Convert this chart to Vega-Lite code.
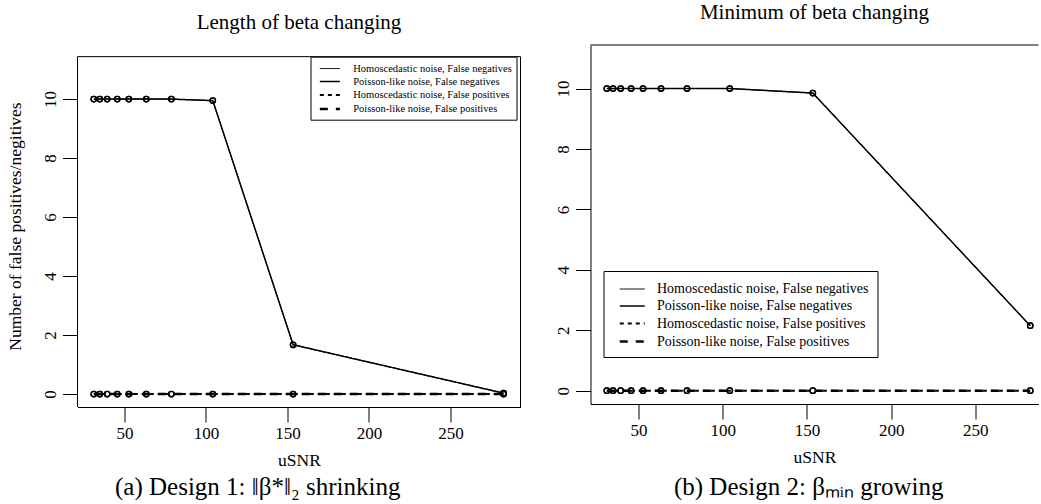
{
  "$schema": "https://vega.github.io/schema/vega-lite/v6.json",
  "padding": {"left": 6.5, "top": 1, "right": 0, "bottom": 0},
  "background": "white",
  "spacing": 33,
  "resolve": {
    "scale": {"x": "independent", "y": "independent", "strokeDash": "independent", "strokeWidth": "independent"},
    "legend": {"strokeDash": "independent", "strokeWidth": "independent"}
  },
  "config": {
    "font": "Liberation Serif",
    "view": {"stroke": null},
    "axis": {"grid": false, "domain": false, "domainColor": "black", "domainWidth": 1, "tickColor": "black", "tickSize": 15, "tickWidth": 1, "labelColor": "black", "labelFontSize": 17, "titleFontSize": 17.5, "titleFontWeight": "normal", "titleColor": "black", "labelFont": "Liberation Serif", "titleFont": "Liberation Serif", "labelFlush": false, "labelOverlap": false},
    "title": {"fontWeight": "normal", "color": "black", "font": "Liberation Serif"},
    "legend": {"labelFont": "Liberation Serif", "labelColor": "black", "labelLimit": 500}
  },
  "datasets": {
    "left": [
      {"series": "Homoscedastic noise, False negatives", "x": 31.2, "y": 10},
      {"series": "Homoscedastic noise, False negatives", "x": 34.9, "y": 10},
      {"series": "Homoscedastic noise, False negatives", "x": 39.4, "y": 10},
      {"series": "Homoscedastic noise, False negatives", "x": 45.6, "y": 10},
      {"series": "Homoscedastic noise, False negatives", "x": 52.7, "y": 10},
      {"series": "Homoscedastic noise, False negatives", "x": 63.4, "y": 10},
      {"series": "Homoscedastic noise, False negatives", "x": 78.8, "y": 10},
      {"series": "Homoscedastic noise, False negatives", "x": 104.2, "y": 9.95},
      {"series": "Homoscedastic noise, False negatives", "x": 153.5, "y": 1.67},
      {"series": "Homoscedastic noise, False negatives", "x": 282.6, "y": 0.03},
      {"series": "Poisson-like noise, False negatives", "x": 31.2, "y": 10},
      {"series": "Poisson-like noise, False negatives", "x": 34.9, "y": 10},
      {"series": "Poisson-like noise, False negatives", "x": 39.4, "y": 10},
      {"series": "Poisson-like noise, False negatives", "x": 45.6, "y": 10},
      {"series": "Poisson-like noise, False negatives", "x": 52.7, "y": 10},
      {"series": "Poisson-like noise, False negatives", "x": 63.4, "y": 10},
      {"series": "Poisson-like noise, False negatives", "x": 78.8, "y": 10},
      {"series": "Poisson-like noise, False negatives", "x": 104.2, "y": 9.95},
      {"series": "Poisson-like noise, False negatives", "x": 153.5, "y": 1.67},
      {"series": "Poisson-like noise, False negatives", "x": 282.6, "y": 0.03},
      {"series": "Homoscedastic noise, False positives", "x": 31.2, "y": 0},
      {"series": "Homoscedastic noise, False positives", "x": 34.9, "y": 0},
      {"series": "Homoscedastic noise, False positives", "x": 39.4, "y": 0},
      {"series": "Homoscedastic noise, False positives", "x": 45.6, "y": 0},
      {"series": "Homoscedastic noise, False positives", "x": 52.7, "y": 0},
      {"series": "Homoscedastic noise, False positives", "x": 63.4, "y": 0},
      {"series": "Homoscedastic noise, False positives", "x": 78.8, "y": 0},
      {"series": "Homoscedastic noise, False positives", "x": 104.2, "y": 0},
      {"series": "Homoscedastic noise, False positives", "x": 153.5, "y": 0},
      {"series": "Homoscedastic noise, False positives", "x": 282.6, "y": 0},
      {"series": "Poisson-like noise, False positives", "x": 31.2, "y": 0},
      {"series": "Poisson-like noise, False positives", "x": 34.9, "y": 0},
      {"series": "Poisson-like noise, False positives", "x": 39.4, "y": 0},
      {"series": "Poisson-like noise, False positives", "x": 45.6, "y": 0},
      {"series": "Poisson-like noise, False positives", "x": 52.7, "y": 0},
      {"series": "Poisson-like noise, False positives", "x": 63.4, "y": 0},
      {"series": "Poisson-like noise, False positives", "x": 78.8, "y": 0},
      {"series": "Poisson-like noise, False positives", "x": 104.2, "y": 0},
      {"series": "Poisson-like noise, False positives", "x": 153.5, "y": 0},
      {"series": "Poisson-like noise, False positives", "x": 282.6, "y": 0}
    ],
    "right": [
      {"series": "Homoscedastic noise, False negatives", "x": 31.2, "y": 10},
      {"series": "Homoscedastic noise, False negatives", "x": 34.9, "y": 10},
      {"series": "Homoscedastic noise, False negatives", "x": 39.4, "y": 10},
      {"series": "Homoscedastic noise, False negatives", "x": 45.6, "y": 10},
      {"series": "Homoscedastic noise, False negatives", "x": 52.7, "y": 10},
      {"series": "Homoscedastic noise, False negatives", "x": 63.4, "y": 10},
      {"series": "Homoscedastic noise, False negatives", "x": 78.8, "y": 10},
      {"series": "Homoscedastic noise, False negatives", "x": 104.2, "y": 10},
      {"series": "Homoscedastic noise, False negatives", "x": 153.5, "y": 9.85},
      {"series": "Homoscedastic noise, False negatives", "x": 282.6, "y": 2.15},
      {"series": "Poisson-like noise, False negatives", "x": 31.2, "y": 10},
      {"series": "Poisson-like noise, False negatives", "x": 34.9, "y": 10},
      {"series": "Poisson-like noise, False negatives", "x": 39.4, "y": 10},
      {"series": "Poisson-like noise, False negatives", "x": 45.6, "y": 10},
      {"series": "Poisson-like noise, False negatives", "x": 52.7, "y": 10},
      {"series": "Poisson-like noise, False negatives", "x": 63.4, "y": 10},
      {"series": "Poisson-like noise, False negatives", "x": 78.8, "y": 10},
      {"series": "Poisson-like noise, False negatives", "x": 104.2, "y": 10},
      {"series": "Poisson-like noise, False negatives", "x": 153.5, "y": 9.85},
      {"series": "Poisson-like noise, False negatives", "x": 282.6, "y": 2.15},
      {"series": "Homoscedastic noise, False positives", "x": 31.2, "y": 0},
      {"series": "Homoscedastic noise, False positives", "x": 34.9, "y": 0},
      {"series": "Homoscedastic noise, False positives", "x": 39.4, "y": 0},
      {"series": "Homoscedastic noise, False positives", "x": 45.6, "y": 0},
      {"series": "Homoscedastic noise, False positives", "x": 52.7, "y": 0},
      {"series": "Homoscedastic noise, False positives", "x": 63.4, "y": 0},
      {"series": "Homoscedastic noise, False positives", "x": 78.8, "y": 0},
      {"series": "Homoscedastic noise, False positives", "x": 104.2, "y": 0},
      {"series": "Homoscedastic noise, False positives", "x": 153.5, "y": 0},
      {"series": "Homoscedastic noise, False positives", "x": 282.6, "y": 0},
      {"series": "Poisson-like noise, False positives", "x": 31.2, "y": 0},
      {"series": "Poisson-like noise, False positives", "x": 34.9, "y": 0},
      {"series": "Poisson-like noise, False positives", "x": 39.4, "y": 0},
      {"series": "Poisson-like noise, False positives", "x": 45.6, "y": 0},
      {"series": "Poisson-like noise, False positives", "x": 52.7, "y": 0},
      {"series": "Poisson-like noise, False positives", "x": 63.4, "y": 0},
      {"series": "Poisson-like noise, False positives", "x": 78.8, "y": 0},
      {"series": "Poisson-like noise, False positives", "x": 104.2, "y": 0},
      {"series": "Poisson-like noise, False positives", "x": 153.5, "y": 0},
      {"series": "Poisson-like noise, False positives", "x": 282.6, "y": 0}
    ]
  },
  "hconcat": [
    {
      "title": {"text": "(a) Design 1: ‖β*‖₂ shrinking", "orient": "bottom", "fontSize": 25, "offset": 6, "anchor": "middle", "dx": -6},
      "vconcat": [
        {
          "width": 443,
          "height": 362,
          "title": {"text": "Length of beta changing", "fontSize": 21, "offset": 12},
          "data": {"name": "left"},
          "layer": [
            {
              "mark": {"type": "line", "color": "black"},
              "encoding": {
                "x": {"field": "x", "type": "quantitative", "scale": {"domain": [21.2, 293], "nice": false, "zero": false}, "axis": {"values": [50, 100, 150, 200, 250], "title": "uSNR", "format": "d", "labelPadding": 3, "titlePadding": 10, "domain": true}},
                "y": {"field": "y", "type": "quantitative", "scale": {"domain": [-0.44, 11.835], "nice": false, "zero": false}, "axis": {"values": [0, 2, 4, 6, 8, 10], "title": "Number of false positives/negitives", "format": "d", "labelAngle": -90, "labelAlign": "center", "labelBaseline": "alphabetic", "labelPadding": 7, "minExtent": 40, "maxExtent": 40, "titlePadding": 13}},
                "strokeDash": {"field": "series", "type": "nominal", "scale": {"domain": ["Homoscedastic noise, False negatives", "Poisson-like noise, False negatives", "Homoscedastic noise, False positives", "Poisson-like noise, False positives"], "range": [[1, 0], [1, 0], [4, 4], [8, 8]]}, "legend": {"orient": "none", "legendX": 233, "legendY": 11.7, "title": null, "strokeColor": "black", "fillColor": "white", "padding": 4.35, "symbolOffset": 7, "labelFontSize": 10.5, "rowPadding": 0, "symbolSize": 177.8, "labelOffset": 15.3, "symbolType": "M-1.5,0H1.5", "symbolStrokeColor": "black", "symbolFillColor": "transparent"}},
                "strokeWidth": {"field": "series", "type": "nominal", "scale": {"domain": ["Homoscedastic noise, False negatives", "Poisson-like noise, False negatives", "Homoscedastic noise, False positives", "Poisson-like noise, False positives"], "range": [1, 2.5, 1, 2.5]}, "legend": {"orient": "none", "legendX": 233, "legendY": 11.7, "title": null, "strokeColor": "black", "fillColor": "white", "padding": 4.35, "symbolOffset": 7, "labelFontSize": 10.5, "rowPadding": 0, "symbolSize": 177.8, "labelOffset": 15.3, "symbolType": "M-1.5,0H1.5", "symbolStrokeColor": "black", "symbolFillColor": "transparent"}}
              }
            },
            {
              "mark": {"type": "point", "shape": "circle", "filled": false, "color": "black", "size": 30, "strokeWidth": 1.3, "opacity": 1},
              "encoding": {
                "x": {"field": "x", "type": "quantitative"},
                "y": {"field": "y", "type": "quantitative"}
              }
            },
            {
              "data": {"values": [{}]},
              "mark": {"type": "rule", "color": "black", "strokeWidth": 1},
              "encoding": {"x": {"datum": 21.2}, "y": {"datum": -0.44}, "y2": {"datum": 11.44}}
            },
            {
              "data": {"values": [{}]},
              "mark": {"type": "rule", "color": "black", "strokeWidth": 1},
              "encoding": {"x": {"datum": 293}, "y": {"datum": -0.44}, "y2": {"datum": 11.44}}
            },
            {
              "data": {"values": [{}]},
              "mark": {"type": "rule", "color": "black", "strokeWidth": 1},
              "encoding": {"y": {"datum": 11.44}}
            }
          ]
        }
      ]
    },
    {
      "title": {"text": "(b) Design 2: βₘᵢₙ growing", "orient": "bottom", "fontSize": 25, "offset": 9, "anchor": "middle", "dx": 12},
      "vconcat": [
        {
          "width": 448,
          "height": 359,
          "title": {"text": "Minimum of beta changing", "fontSize": 21, "offset": 22},
          "data": {"name": "right"},
          "layer": [
            {
              "mark": {"type": "line", "color": "black"},
              "encoding": {
                "x": {"field": "x", "type": "quantitative", "scale": {"domain": [21.5, 287.5], "nice": false, "zero": false}, "axis": {"values": [50, 100, 150, 200, 250], "title": "uSNR", "format": "d", "labelPadding": 3, "titlePadding": 10, "domain": true}},
                "y": {"field": "y", "type": "quantitative", "scale": {"domain": [-0.44, 11.44], "nice": false, "zero": false}, "axis": {"values": [0, 2, 4, 6, 8, 10], "title": null, "format": "d", "labelAngle": -90, "labelAlign": "center", "labelBaseline": "alphabetic", "labelPadding": 7, "domain": true}},
                "strokeDash": {"field": "series", "type": "nominal", "scale": {"domain": ["Homoscedastic noise, False negatives", "Poisson-like noise, False negatives", "Homoscedastic noise, False positives", "Poisson-like noise, False positives"], "range": [[1, 0], [1, 0], [4, 4], [8, 8]]}, "legend": {"orient": "none", "legendX": 13, "legendY": 226, "title": null, "strokeColor": "black", "fillColor": "white", "padding": 8, "symbolOffset": 10.25, "labelFontSize": 14, "rowPadding": 0, "symbolSize": 342.25, "labelOffset": 14.25, "symbolType": "M-1.35,0H1.35", "symbolStrokeColor": "black", "symbolFillColor": "transparent"}},
                "strokeWidth": {"field": "series", "type": "nominal", "scale": {"domain": ["Homoscedastic noise, False negatives", "Poisson-like noise, False negatives", "Homoscedastic noise, False positives", "Poisson-like noise, False positives"], "range": [1, 2.5, 1, 2.5]}, "legend": {"orient": "none", "legendX": 13, "legendY": 226, "title": null, "strokeColor": "black", "fillColor": "white", "padding": 8, "symbolOffset": 10.25, "labelFontSize": 14, "rowPadding": 0, "symbolSize": 342.25, "labelOffset": 14.25, "symbolType": "M-1.35,0H1.35", "symbolStrokeColor": "black", "symbolFillColor": "transparent"}}
              }
            },
            {
              "mark": {"type": "point", "shape": "circle", "filled": false, "color": "black", "size": 30, "strokeWidth": 1.3, "opacity": 1},
              "encoding": {
                "x": {"field": "x", "type": "quantitative"},
                "y": {"field": "y", "type": "quantitative"}
              }
            },
            {
              "data": {"values": [{}]},
              "mark": {"type": "rule", "color": "black", "strokeWidth": 1},
              "encoding": {"y": {"datum": 11.44}}
            }
          ]
        }
      ]
    }
  ]
}
